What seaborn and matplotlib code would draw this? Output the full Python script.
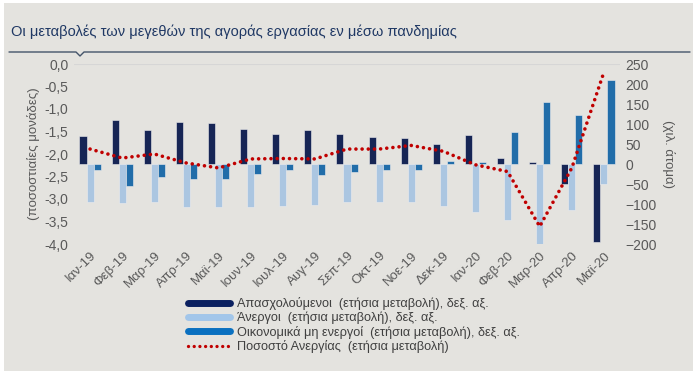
import numpy as np
import pandas as pd
import matplotlib
matplotlib.use("Agg")
import matplotlib.pyplot as plt
from matplotlib.patches import Rectangle
from matplotlib.lines import Line2D
import seaborn as sns

# ---------------------------------------------------------------------------
# Data
# ---------------------------------------------------------------------------
months = ["Ιαν-19", "Φεβ-19", "Μαρ-19", "Απρ-19", "Μαϊ-19", "Ιουν-19", "Ιουλ-19",
          "Αυγ-19", "Σεπ-19", "Οκτ-19", "Νοε-19", "Δεκ-19", "Ιαν-20", "Φεβ-20",
          "Μαρ-20", "Απρ-20", "Μαϊ-20"]

employed = [69, 110, 86, 105, 102, 88, 75, 86, 75, 67, 65, 51, 72, 16, 5, -49, -194]
unemployed = [-94, -97, -94, -107, -107, -107, -105, -102, -96, -94, -94, -105, -120,
              -140, -201, -115, -51]
inactive = [-14, -54, -32, -38, -38, -24, -14, -27, -21, -16, -16, 7, 5, 80, 154, 123, 209]
unemp_rate = [-1.89, -2.09, -2.00, -2.20, -2.31, -2.11, -2.10, -2.11, -1.89, -1.89,
              -1.81, -1.94, -2.24, -2.39, -3.61, -2.31, -0.18]

series_names = ["Απασχολούμενοι  (ετήσια μεταβολή), δεξ. αξ.",
                "Άνεργοι  (ετήσια μεταβολή), δεξ. αξ.",
                "Οικονομικά μη ενεργοί  (ετήσια μεταβολή), δεξ. αξ."]
line_name = "Ποσοστό Ανεργίας  (ετήσια μεταβολή)"

COLOR_EMP = "#0B2060"
COLOR_UNEMP = "#A2C6EA"
COLOR_INACT = "#0A70C0"
COLOR_LINE = "#C00000"
BG = "#E4E3DF"
TXT = "#595959"
DOTS = (0, (0.01, 1.7))

df = pd.DataFrame({
    "month": months * 3,
    "series": np.repeat(series_names, len(months)),
    "value": employed + unemployed + inactive,
})

# ---------------------------------------------------------------------------
# Figure
# ---------------------------------------------------------------------------
sns.set_style("white")
plt.rcParams["font.family"] = ["Liberation Sans", "DejaVu Sans"]

fig = plt.figure(figsize=(7, 3.78), dpi=100)
fig.patch.set_facecolor("white")
fig.patches.append(Rectangle((4 / 700, 1 - 371 / 378), 689 / 700, 368 / 378,
                             transform=fig.transFigure, facecolor=BG,
                             edgecolor="none", zorder=-10))

fig.text(11 / 700, 1 - 32 / 378, "Οι μεταβολές των μεγεθών της αγοράς εργασίας εν μέσω πανδημίας",
         fontsize=10.5, color="#1F3864", va="center", ha="left")
fig.add_artist(Line2D([9 / 700, 76 / 700, 80 / 700, 84 / 700, 690 / 700],
                      [1 - 52 / 378, 1 - 52 / 378, 1 - 56 / 378, 1 - 52 / 378, 1 - 52 / 378],
                      transform=fig.transFigure, color="#44546A", linewidth=1))

ax_line = fig.add_axes([74 / 700, 1 - 244 / 378, 546 / 700, 180 / 378])
ax_bar = ax_line.twinx()

sns.barplot(data=df, x="month", y="value", hue="series", order=months,
            hue_order=series_names, palette=[COLOR_EMP, COLOR_UNEMP, COLOR_INACT],
            width=0.66, edgecolor="#EDEDED", linewidth=0.4, ax=ax_bar, legend=False)

sns.lineplot(x=np.arange(len(months)), y=unemp_rate, ax=ax_line, color=COLOR_LINE,
             linewidth=2.6, linestyle=DOTS)
ax_line.lines[-1].set_dash_capstyle("round")

ax_line.set_zorder(ax_bar.get_zorder() + 1)
ax_line.patch.set_visible(False)
ax_bar.patch.set_visible(False)

ax_line.set_ylim(-4.0, 0.0)
ax_bar.set_ylim(-200, 250)
ax_line.set_xlim(-0.5, len(months) - 0.5)

ax_line.set_yticks(np.arange(-4.0, 0.01, 0.5))
ax_line.set_yticklabels([f"{v:.1f}".replace(".", ",") for v in np.arange(-4.0, 0.01, 0.5)])
ax_bar.set_yticks(np.arange(-200, 251, 50))

ax_line.set_xticks(np.arange(len(months)))
ax_line.set_xticklabels(months, rotation=45, ha="right", rotation_mode="anchor")
ax_bar.set_xlabel("")
ax_bar.set_ylabel("")

ax_line.axhline(0, color="#D6D6D6", linewidth=0.8, zorder=0)

for a in (ax_line, ax_bar):
    for s in a.spines.values():
        s.set_visible(False)
    a.tick_params(axis="both", length=0, labelsize=10, labelcolor=TXT, pad=4)
ax_line.tick_params(axis="x", labelsize=9.5, pad=4)

ax_line.set_ylabel("(ποσοστιαίες μονάδες)", fontsize=9.5, color=TXT, labelpad=3)
ax_bar.set_ylabel("(χιλ. άτομα)", fontsize=9.5, color=TXT, rotation=270, labelpad=13)

handles = [
    Line2D([], [], color=COLOR_EMP, linewidth=5),
    Line2D([], [], color=COLOR_UNEMP, linewidth=5),
    Line2D([], [], color=COLOR_INACT, linewidth=5),
    Line2D([], [], color=COLOR_LINE, linewidth=2.4, linestyle=DOTS,
           dash_capstyle="round"),
]
fig.legend(handles, series_names + [line_name], loc="upper left",
           bbox_to_anchor=(183 / 700, 1 - 292 / 378), frameon=False, fontsize=9.2,
           handlelength=3.3, handletextpad=0.5, labelspacing=0.12,
           labelcolor="#404040", borderaxespad=0)

fig.savefig("out.png", dpi=100, facecolor=fig.get_facecolor())
